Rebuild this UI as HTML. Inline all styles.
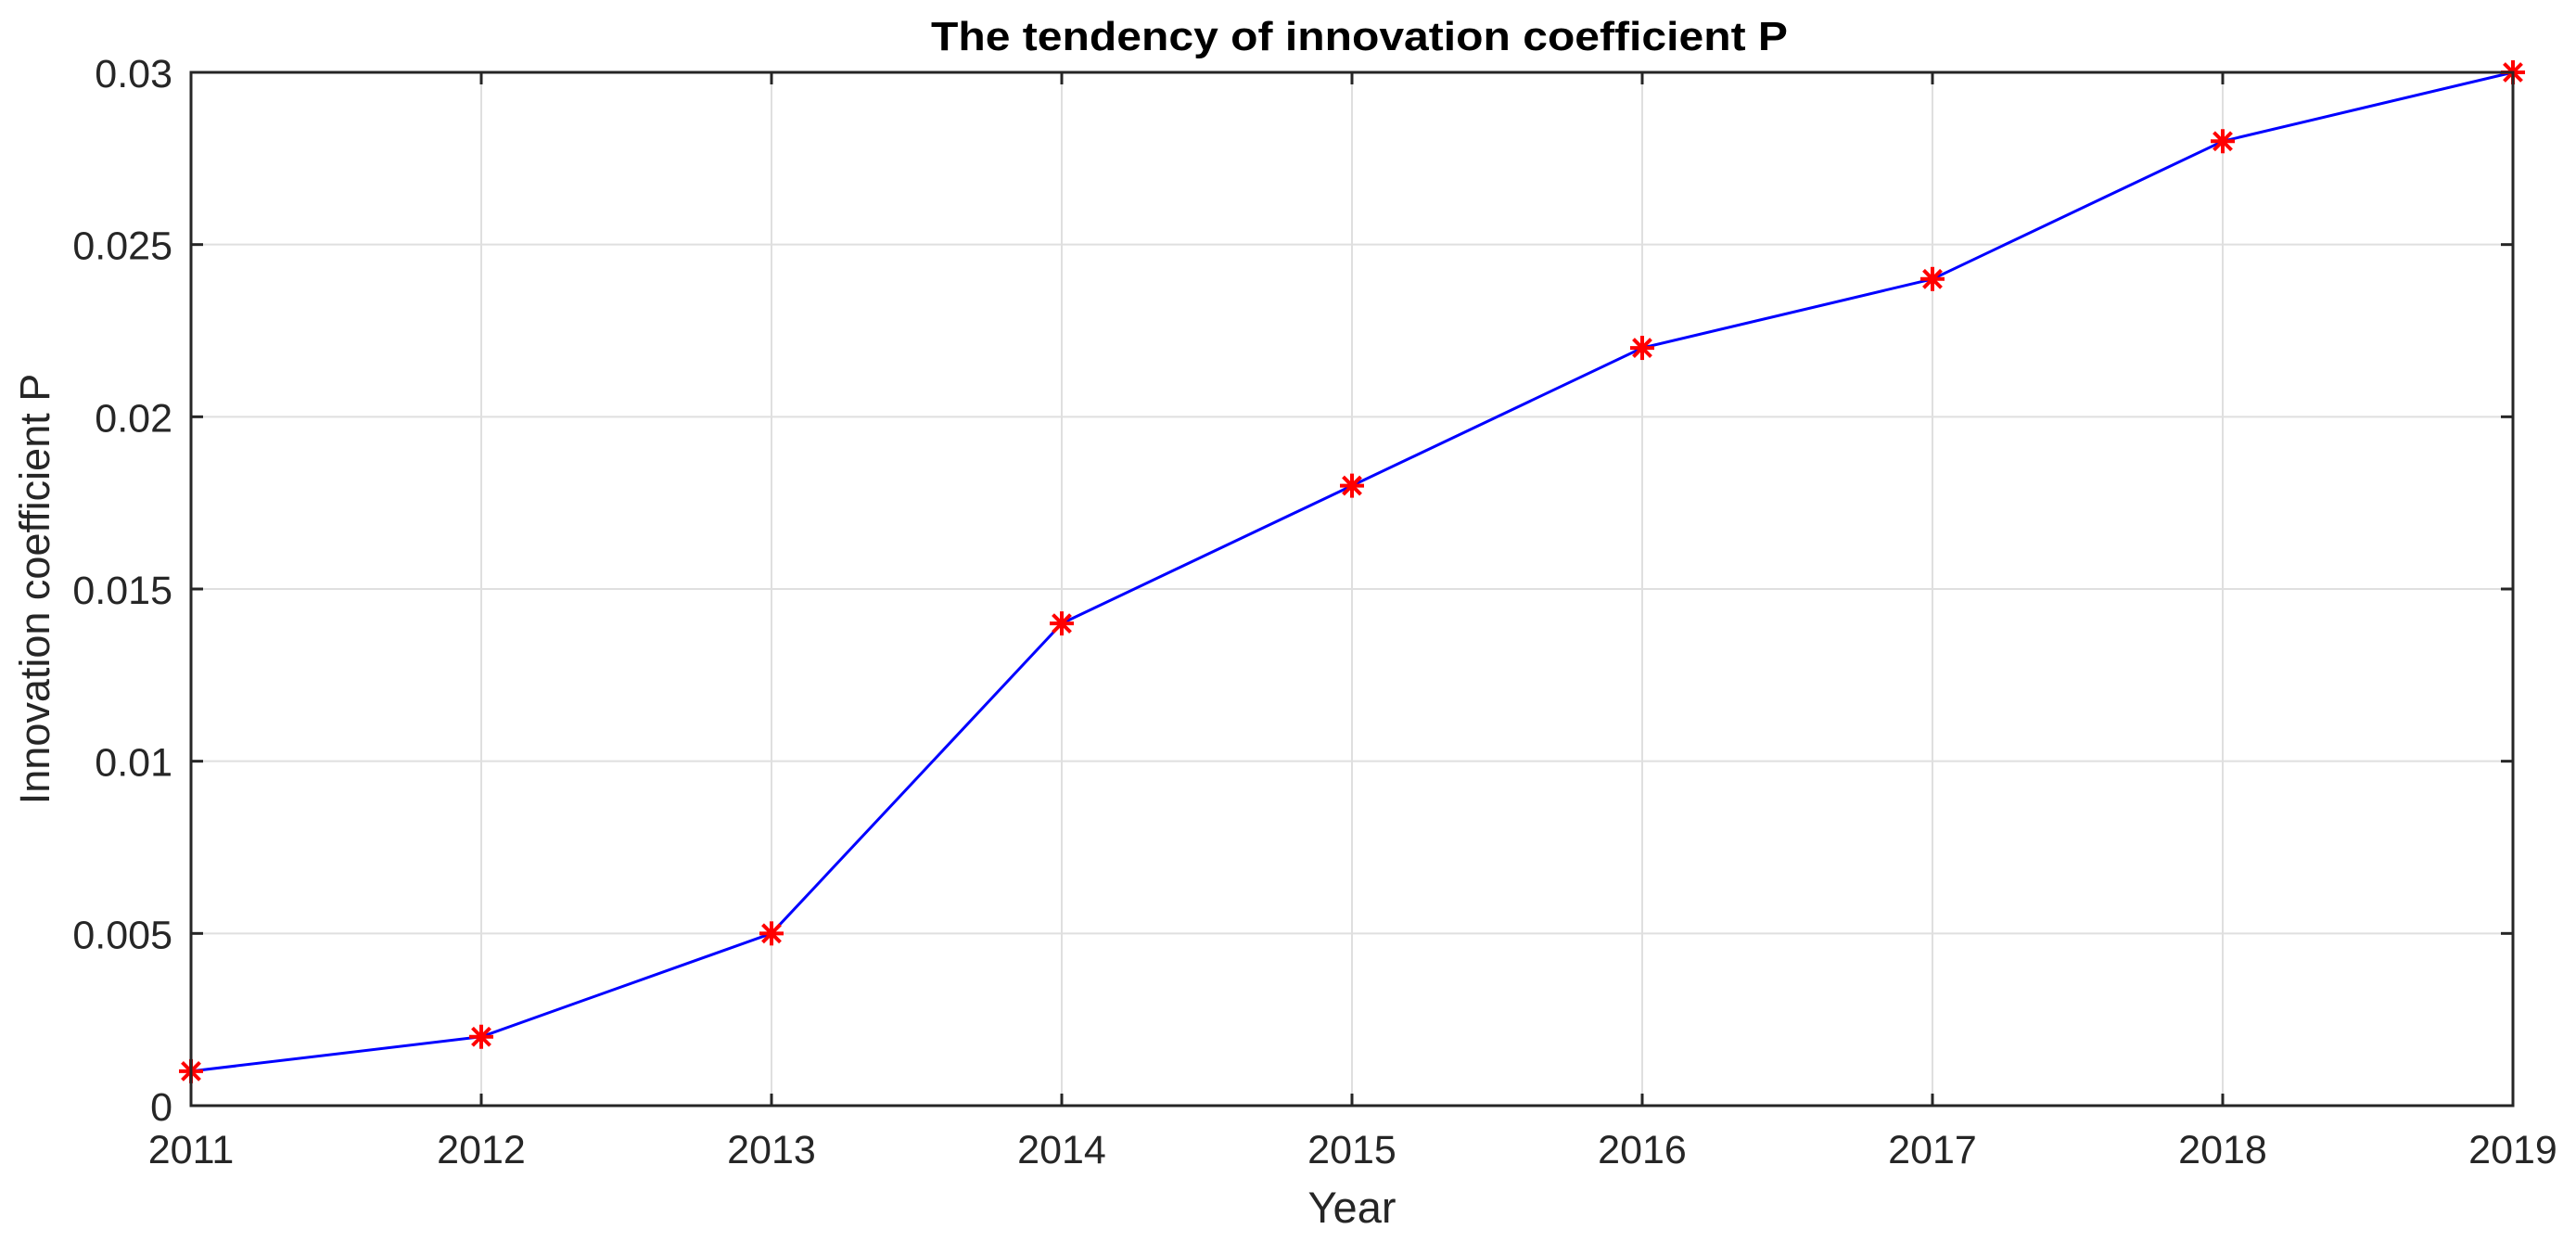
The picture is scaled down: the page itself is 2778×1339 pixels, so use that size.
<!DOCTYPE html>
<html><head><meta charset="utf-8"><style>
html,body{margin:0;padding:0;background:#fff;}
svg{display:block;font-family:"Liberation Sans",Arial,sans-serif;}
</style></head><body>
<svg id="chart" width="2778" height="1339" xmlns="http://www.w3.org/2000/svg">
<g id="grid"></g>
<g id="series"></g>
<rect x="206" y="78" width="2504" height="1114" fill="none" stroke="#262626" stroke-width="3"/>
<g id="ticks"></g>
<text x="1466" y="54" text-anchor="middle" font-size="44" font-weight="bold" fill="#000" textLength="924" lengthAdjust="spacingAndGlyphs">The tendency of innovation coefficient P</text>
<text x="1458" y="1318" text-anchor="middle" font-size="47" fill="#262626">Year</text>
<text transform="translate(53,635) rotate(-90)" text-anchor="middle" font-size="45" fill="#262626">Innovation coefficient P</text>
</svg>
<script>
const years = [2011, 2012, 2013, 2014, 2015, 2016, 2017, 2018, 2019];
const pValues = [0.001, 0.002, 0.005, 0.014, 0.018, 0.022, 0.024, 0.028, 0.030];
const yTicks = [0, 0.005, 0.01, 0.015, 0.02, 0.025, 0.03];
const yTickLabels = ["0", "0.005", "0.01", "0.015", "0.02", "0.025", "0.03"];
const xTicks = [2011, 2012, 2013, 2014, 2015, 2016, 2017, 2018, 2019];

const L = 206, R = 2710, T = 78, B = 1192;
const xMin = 2011, xMax = 2019, yMin = 0, yMax = 0.03;
const sx = v => L + (v - xMin) / (xMax - xMin) * (R - L);
const sy = v => B - (v - yMin) / (yMax - yMin) * (B - T);
const NS = "http://www.w3.org/2000/svg";
function mk(tag, attrs, parent) {
  const e = document.createElementNS(NS, tag);
  for (const k in attrs) e.setAttribute(k, attrs[k]);
  parent.appendChild(e);
  return e;
}
const grid = document.getElementById('grid');
const ticks = document.getElementById('ticks');
const series = document.getElementById('series');

xTicks.forEach(v => {
  const x = sx(v);
  const g = mk('line', {x1: x, x2: x, y1: T, y2: B, stroke: '#dfdfdf', 'stroke-width': 2}, grid);
  
  
  const t1 = mk('line', {x1: x, x2: x, y1: B, y2: B - 13, stroke: '#262626', 'stroke-width': 3}, ticks);
  
  
  const t2 = mk('line', {x1: x, x2: x, y1: T, y2: T + 13, stroke: '#262626', 'stroke-width': 3}, ticks);
  
  
  const lb = mk('text', {x: x, y: 1254, 'text-anchor': 'middle', 'font-size': 43, fill: '#262626'}, ticks);
  lb.textContent = String(v);
  
  
});
yTicks.forEach((v, i) => {
  const y = sy(v);
  const g = mk('line', {x1: L, x2: R, y1: y, y2: y, stroke: '#dfdfdf', 'stroke-width': 2}, grid);
  
  
  const t1 = mk('line', {x1: L, x2: L + 13, y1: y, y2: y, stroke: '#262626', 'stroke-width': 3}, ticks);
  
  
  const t2 = mk('line', {x1: R, x2: R - 13, y1: y, y2: y, stroke: '#262626', 'stroke-width': 3}, ticks);
  
  
  const lb = mk('text', {x: 186, y: y + 16, 'text-anchor': 'end', 'font-size': 43, fill: '#262626'}, ticks);
  lb.textContent = yTickLabels[i];
  
  
});

const pts = years.map((yr, i) => sx(yr) + ',' + sy(pValues[i])).join(' ');
const pl = mk('polyline', {points: pts, fill: 'none', stroke: '#0000ff', 'stroke-width': 3}, series);


years.forEach((yr, i) => {
  const x = sx(yr), y = sy(pValues[i]);
  const g = mk('g', {stroke: '#ff0000', 'stroke-width': 4}, series);
  
  
  const r = 13, d = 9.5;
  mk('line', {x1: x - r, x2: x + r, y1: y, y2: y}, g);
  mk('line', {x1: x, x2: x, y1: y - r, y2: y + r}, g);
  mk('line', {x1: x - d, x2: x + d, y1: y - d, y2: y + d}, g);
  mk('line', {x1: x - d, x2: x + d, y1: y + d, y2: y - d}, g);
});
</script>
</body></html>
